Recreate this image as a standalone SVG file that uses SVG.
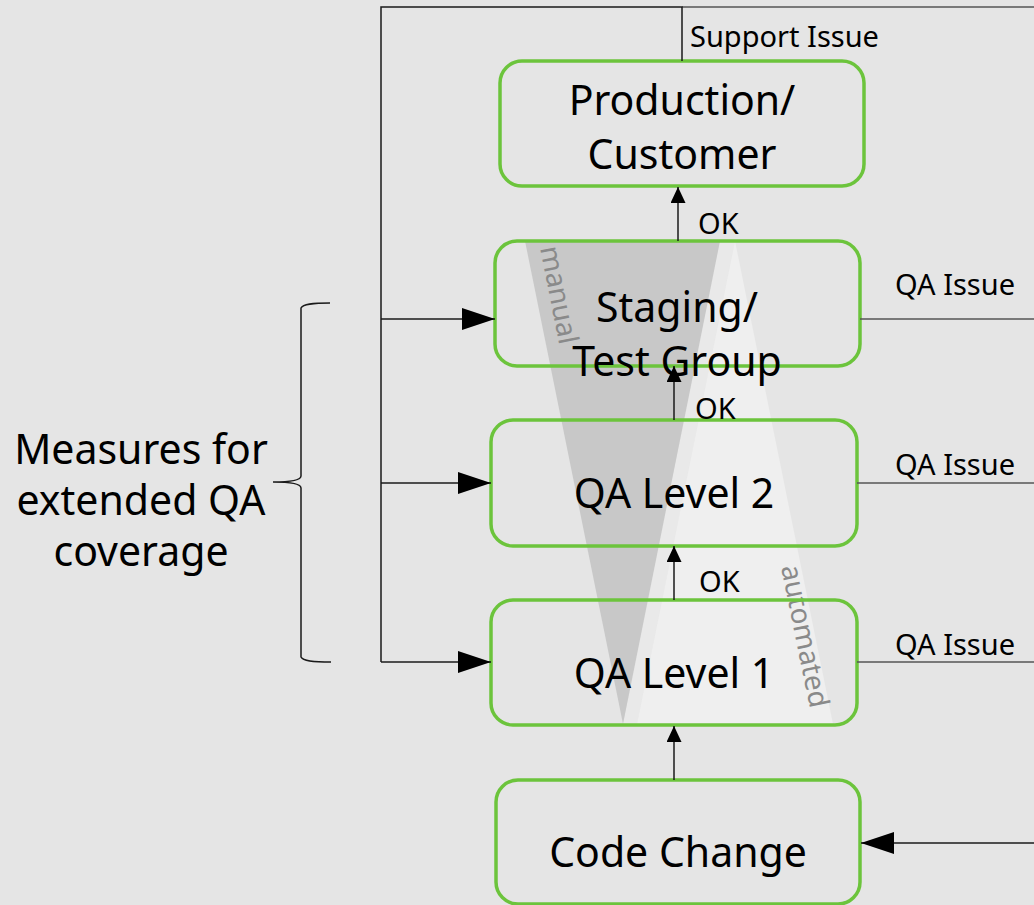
<svg xmlns="http://www.w3.org/2000/svg" width="1034" height="905" viewBox="0 0 1034 905">
<defs>
<style>
.bg{fill:#e5e5e5}
.box{fill:none;stroke:#6cc43c;stroke-width:3.5}
.big{font-family:"Noto Sans",sans-serif;font-size:41px;fill:#000;text-anchor:middle}
.small{font-family:"Noto Sans",sans-serif;font-size:29px;fill:#000}
.rot{font-family:"Noto Sans",sans-serif;font-size:28px;fill:#8a8a8a}
.ln{fill:none;stroke:#1a1a1a;stroke-width:1.5}
.lg{fill:none;stroke:#555;stroke-width:1.5}
</style>
<marker id="big" viewBox="0 0 33 22" refX="33" refY="11" markerWidth="33" markerHeight="22" markerUnits="userSpaceOnUse" orient="auto"><path d="M0,0 L33,11 L0,22 Z" fill="#000"/></marker>
<marker id="sm" viewBox="0 0 16 15" refX="16" refY="7.5" markerWidth="16" markerHeight="15" markerUnits="userSpaceOnUse" orient="auto"><path d="M0,0 L16,7.5 L0,15 Z" fill="#000"/></marker>
</defs>
<rect class="bg" x="0" y="0" width="1034" height="905"/>
<g id="coverage">
<polygon points="720,241 735,241 637,724 623,724" fill="#e9e9e9"/>
<polygon points="735,241 637,724 833,724" fill="#efefef"/>
<polygon points="525,241 720,241 623,724" fill="#c8c8c8"/>
<text class="rot" transform="translate(540,248) rotate(78.7)">manual</text>
<text class="rot" transform="translate(781,567) rotate(78.4)">automated</text>
</g>
<g id="production">
<rect class="box" x="500" y="61" width="364" height="125" rx="22"/>
<text class="big" x="682" y="115">Production/</text>
<text class="big" x="682" y="169">Customer</text>
</g>
<g id="staging">
<rect class="box" x="495" y="241" width="365" height="125" rx="22"/>
<text class="big" x="677" y="322">Staging/</text>
<text class="big" x="677" y="376">Test Group</text>
</g>
<g id="qa2">
<rect class="box" x="491" y="420" width="366" height="126" rx="22"/>
<text class="big" x="674" y="508">QA Level 2</text>
</g>
<g id="qa1">
<rect class="box" x="491" y="600" width="366" height="125" rx="22"/>
<text class="big" x="674" y="688">QA Level 1</text>
</g>
<g id="code">
<rect class="box" x="496" y="780" width="364" height="124" rx="22"/>
<text class="big" x="678" y="867">Code Change</text>
</g>
<g id="measures">
<path class="ln" d="M330,303 C312,303 303,304 301,308 L301,476 C301,480 290,482 273,482 C290,482 301,484 301,488 L301,657 C303,661 312,662 331,662" stroke-width="1.3"/>
<text class="big" x="141" y="464">Measures for</text>
<text class="big" x="141" y="515">extended QA</text>
<text class="big" x="141" y="566">coverage</text>
</g>
<g id="connectors">
<path class="lg" d="M682,7 L1034,7"/>
<path class="ln" d="M682,61 L682,7 L381,7 L381,662"/>
<path class="ln" d="M381,319 L495,319" marker-end="url(#big)"/>
<path class="ln" d="M381,483 L491,483" marker-end="url(#big)"/>
<path class="ln" d="M381,662 L491,662" marker-end="url(#big)"/>
<path class="ln" d="M678,241 L678,187" marker-end="url(#sm)"/>
<path class="ln" d="M674,420 L674,366" marker-end="url(#sm)"/>
<path class="ln" d="M674,600 L674,546" marker-end="url(#sm)"/>
<path class="ln" d="M674,780 L674,726" marker-end="url(#sm)"/>
<path class="lg" d="M860,319 L1034,319"/>
<path class="lg" d="M857,483 L1034,483"/>
<path class="lg" d="M857,662 L1034,662"/>
<path class="ln" d="M1034,843 L861,843" marker-end="url(#big)"/>
<text class="small" x="690" y="47">Support Issue</text>
<text class="small" x="698" y="234">OK</text>
<text class="small" x="695" y="419">OK</text>
<text class="small" x="699" y="592">OK</text>
<text class="small" x="895" y="295">QA Issue</text>
<text class="small" x="895" y="475">QA Issue</text>
<text class="small" x="895" y="655">QA Issue</text>
</g>
</svg>
